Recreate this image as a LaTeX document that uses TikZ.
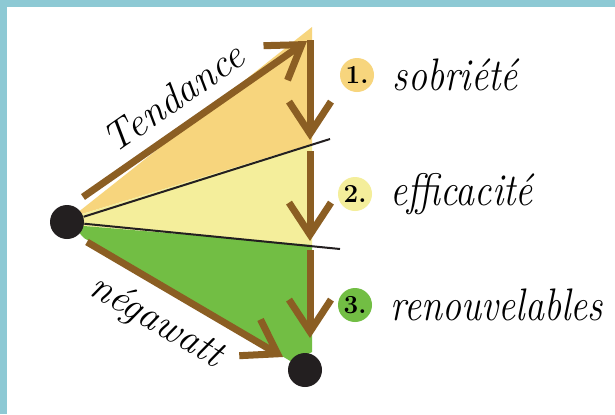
\documentclass[tikz,border=0pt]{standalone}
\usepackage{graphicx}
\usetikzlibrary{arrows.meta,positioning}

\definecolor{framecol}{HTML}{8DC9D4}
\definecolor{sobrfill}{HTML}{F7D57D}
\definecolor{efffill}{HTML}{F4EE9B}
\definecolor{renfill}{HTML}{72BE44}
\definecolor{arrowbrown}{HTML}{8B5E23}
\definecolor{dotblack}{HTML}{231F20}

\newcommand{\hand}[1]{{\fontsize{19}{22}\selectfont\itshape\scalebox{1}[1.2]{#1}}}
\newcommand{\slant}[1]{{\fontsize{20}{22}\selectfont\itshape #1}}

\begin{document}
\begin{tikzpicture}[x=0.5pt,y=-0.5pt,
  >={Straight Barb[length=16pt,width=21pt]},
  brownarrow/.style={draw=arrowbrown,line width=3.5pt,->},
  cutline/.style={draw=dotblack,line width=1pt},
  dot/.style={circle,fill=dotblack,minimum size=17pt,inner sep=0pt},
  num/.style={circle,minimum size=17pt,inner sep=0pt,font=\fontsize{13}{14}\selectfont\bfseries},
  word/.style={inner sep=0pt}]
% frame
\fill[white] (0,0) rectangle (615,414);
\fill[framecol] (0,0) rectangle (615,7);
\fill[framecol] (0,0) rectangle (7,414);
\useasboundingbox (0,0) rectangle (615,414);

% the three slices
\fill[sobrfill] (72,217) -- (312,27) -- (312,144) -- cycle;
\fill[efffill] (72,217) -- (312,144) -- (312,245) -- (72,225) -- cycle;
\fill[renfill] (72,225) -- (312,245) -- (312,352) -- (292,362) -- (84,238) -- cycle;

% points
\node[dot] (start) at (67,222) {};
\node[dot] (goal) at (305,370) {};
\coordinate (cutA) at (330,139);
\coordinate (cutB) at (340,249);
\coordinate (t0) at (83,197);
\coordinate (t1) at (307,41);
\coordinate (n0) at (87,242);
\coordinate (n1) at (283,357);
\coordinate (v0) at (310,40);
\coordinate (v1) at (310,140);
\coordinate (v2) at (310,151);
\coordinate (v3) at (310,241);
\coordinate (v4) at (310,250);
\coordinate (v5) at (310,338);

% black cuts
\draw[cutline] (start) -- (cutA);
\draw[cutline] (start) -- (cutB);

% arrows
\draw[brownarrow] (t0) -- node[sloped,above=3pt,pos=0.48] {\slant{Tendance}} (t1);
\draw[brownarrow] (n0) -- node[sloped,below=3pt,pos=0.44] {\slant{négawatt}} (n1);
\draw[brownarrow] (v0) -- (v1);
\draw[brownarrow] (v2) -- (v3);
\draw[brownarrow] (v4) -- (v5);

% legend
\node[num,fill=sobrfill] (c1) at (357,75) {1.};
\node[num,fill=efffill] (c2) at (355,194) {2.};
\node[num,fill=renfill] (c3) at (355,305) {3.};
\node[word,right=9pt of c1] (w1) {\hand{sobriété}};
\node[word,right=9pt of c2] (w2) {\hand{efficacité}};
\node[word,right=9pt of c3] (w3) {\hand{renouvelables}};
\end{tikzpicture}
\end{document}
